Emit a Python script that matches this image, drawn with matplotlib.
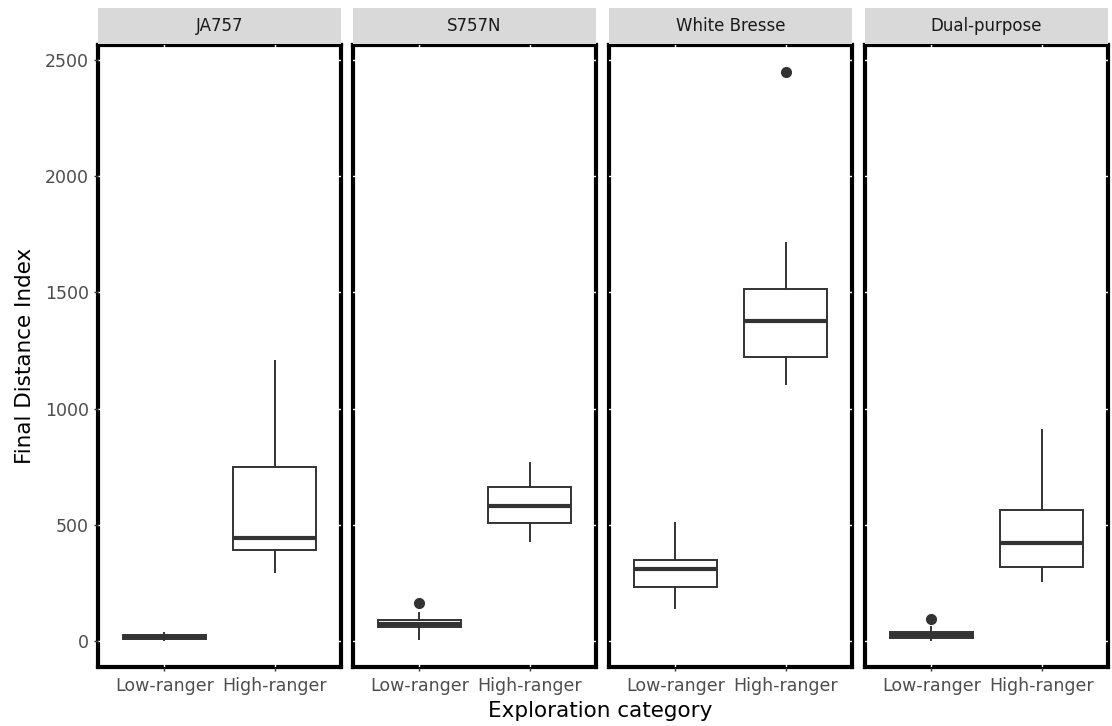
import matplotlib
matplotlib.use("Agg")
import matplotlib.pyplot as plt

plt.rcParams['font.family'] = ['DejaVu Sans']

# 面板（品种）
breeds = ["JA757", "S757N", "White Bresse", "Dual-purpose"]
categories = ["Low-ranger", "High-ranger"]

# 每个面板两组箱线图：[Low, High]
whislo = [[5, 297], [8, 430], [142, 1106], [3, 258]]
q1 = [[10, 392], [60, 508], [232, 1222], [13, 318]]
med = [[18, 443], [72, 581], [310, 1377], [25, 422]]
q3 = [[25, 749], [90, 663], [349, 1515], [39, 564]]
whishi = [[35, 1205], [120, 766], [508, 1713], [60, 908]]
fliers = [[[], []], [[163], []], [[], [2448]], [[95], []]]

yticks = [0, 500, 1000, 1500, 2000, 2500]

W, H = 1112, 726
fig = plt.figure(figsize=(W / 100, H / 100), dpi=100)

panel_left = [98, 353, 609, 865]
panel_w = 243
panel_top, panel_bot = 45, 667

for i, breed in enumerate(breeds):
    ax = fig.add_axes([panel_left[i] / W, 1 - panel_bot / H, panel_w / W, (panel_bot - panel_top) / H])
    stats = []
    for j in range(2):
        stats.append(dict(whislo=whislo[i][j], q1=q1[i][j], med=med[i][j], q3=q3[i][j],
                          whishi=whishi[i][j], fliers=fliers[i][j]))
    ax.bxp(stats, positions=[1, 2], widths=0.75, showcaps=False, patch_artist=True,
           boxprops=dict(facecolor='white', edgecolor='#333333', linewidth=1.4),
           whiskerprops=dict(color='#333333', linewidth=1.4),
           medianprops=dict(color='#333333', linewidth=3),
           flierprops=dict(marker='o', markerfacecolor='#333333', markeredgecolor='#333333', markersize=7),
           zorder=3)
    ax.set_xlim(0.4, 2.6)
    ax.set_ylim(-112, 2565)
    ax.set_xticks([1, 2])
    ax.set_xticklabels(categories, fontsize=12.5, color='#4d4d4d')
    ax.set_yticks(yticks)
    if i == 0:
        ax.set_yticklabels([str(v) for v in yticks], fontsize=12.5, color='#4d4d4d')
        ax.tick_params(axis='y', length=3, color='#333333', width=1)
    else:
        ax.set_yticklabels([])
        ax.tick_params(axis='y', length=0)
    ax.tick_params(axis='x', length=3, color='#333333', width=1, pad=4)
    for s in ax.spines.values():
        s.set_color('black')
        s.set_linewidth(3)
    # 白色网格线压在黑边框上
    ax.grid(True, color='white', linewidth=1, zorder=2.6)
    ax.set_axisbelow(False)
    for gl in ax.get_xgridlines() + ax.get_ygridlines():
        gl.set_zorder(2.6)

    # 分面标题条
    sax = fig.add_axes([panel_left[i] / W, 1 - 44 / H, panel_w / W, 36 / H])
    sax.set_facecolor('#d9d9d9')
    for s in sax.spines.values():
        s.set_visible(False)
    sax.set_xticks([])
    sax.set_yticks([])
    sax.text(0.5, 0.5, breed, ha='center', va='center', fontsize=12, color='#1a1a1a',
             transform=sax.transAxes)

fig.text(600 / W, 1 - 711 / H, "Exploration category", ha='center', va='center', fontsize=15.5)
fig.text(25 / W, 1 - 356 / H, "Final Distance Index", ha='center', va='center', fontsize=15.5, rotation=90)

fig.savefig("out.png", dpi=100, facecolor='white')
